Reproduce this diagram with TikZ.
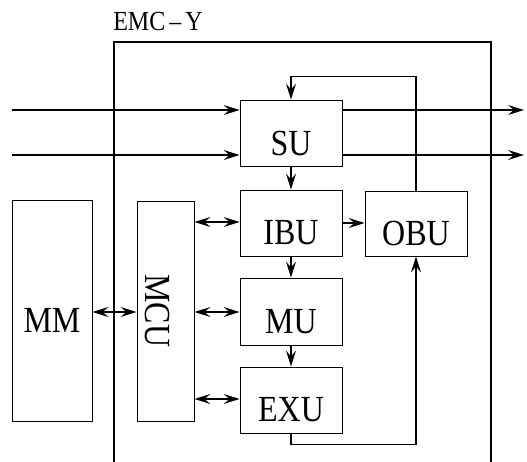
\documentclass[tikz,border=0pt]{standalone}
\usepackage{fontspec}
\setmainfont{Liberation Serif}
\usetikzlibrary{arrows.meta}
\tikzset{
  blk/.style={draw, line width=0.9pt, inner sep=0pt},
  lbl/.style={font=\fontsize{32}{32}\selectfont},
  tip/.tip={Stealth[length=16pt,width=10pt,inset=6pt]},
  con/.style={line width=1.2pt, -tip},
  bicon/.style={line width=1.2pt, tip-tip},
}
\newcommand{\tx}[1]{\scalebox{1}[1.15]{#1}}
\begin{document}
\begin{tikzpicture}[x=1pt,y=-1pt]
\useasboundingbox (0,0) rectangle (527,462);
% outer EMC-Y frame (open at bottom)
\draw[line width=2pt] (114,462) -- (114,42) -- (491,42) -- (491,462);
\node[font=\fontsize{24}{24}\selectfont, anchor=center] (emc) at (158,22) {\tx{EMC\,--\,Y}};
% blocks
\node[blk, minimum width=102pt, minimum height=66pt] (su) at (291,133) {};
\node[lbl] at ([yshift=-10pt]su.center) {\tx{SU}};
\node[blk, minimum width=102pt, minimum height=66pt] (ibu) at (291,223) {};
\node[lbl] at ([yshift=-10pt]ibu.center) {\tx{IBU}};
\node[blk, minimum width=102pt, minimum height=65pt] (obu) at (416,223.5) {};
\node[lbl] at ([yshift=-10pt]obu.center) {\tx{OBU}};
\node[blk, minimum width=102pt, minimum height=67pt] (mu) at (291,311.5) {};
\node[lbl] at ([yshift=-10pt]mu.center) {\tx{MU}};
\node[blk, minimum width=102pt, minimum height=66pt] (exu) at (291,400) {};
\node[lbl] at ([yshift=-10pt]exu.center) {\tx{EXU}};
\node[blk, minimum width=57pt, minimum height=220pt] (mcu) at (165.5,311) {};
\node[lbl, rotate=-90] at ([xshift=-8pt]mcu.center) {\tx{MCU}};
\node[blk, minimum width=80pt, minimum height=221pt] (mm) at (52,310.5) {};
\node[lbl] at ([yshift=-10pt]mm.center) {\tx{MM}};
% free ends
\coordinate (in1) at (12,110);
\coordinate (in2) at (12,155);
\coordinate (out1) at (524,110);
\coordinate (out2) at (524,155);
% inputs and outputs
\draw[con] (in1) -- (in1 -| su.west);
\draw[con] (in2) -- (in2 -| su.west);
\draw[con] (out1 -| su.east) -- (out1);
\draw[con] (out2 -| su.east) -- (out2);
% feedback OBU -> SU
\draw[con] (obu.north) -- ++(0,-114) -| (su.north);
% vertical chain
\draw[con] (su.south) -- (ibu.north);
\draw[con] (ibu.south) -- (mu.north);
\draw[con] (mu.south) -- (exu.north);
% IBU -> OBU
\draw[con] (ibu.east) -- (ibu.east -| obu.west);
% EXU -> OBU
\draw[con] (exu.south) -- ++(0,11) -| (obu.south);
% MCU links
\draw[bicon] (mcu.east |- 0,222) -- (ibu.west |- 0,222);
\draw[bicon] (mcu.east |- 0,312) -- (mu.west |- 0,312);
\draw[bicon] (mcu.east |- 0,399) -- (exu.west |- 0,399);
\draw[bicon] (mm.east |- 0,312) -- (mcu.west |- 0,312);
\end{tikzpicture}
\end{document}
